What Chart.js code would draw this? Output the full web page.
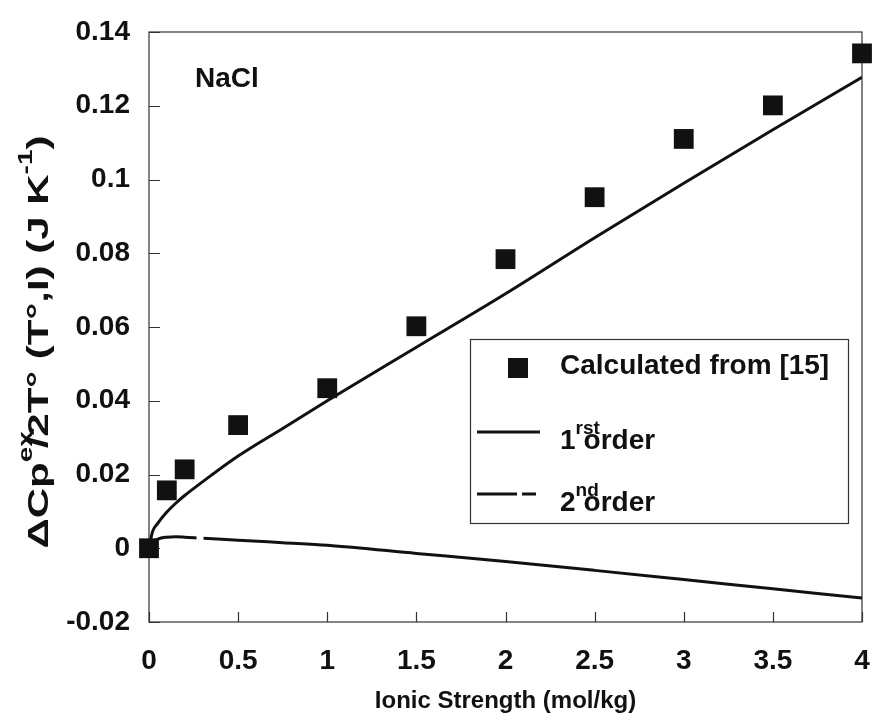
<!DOCTYPE html>
<html>
<head>
<meta charset="utf-8">
<script src="https://cdn.jsdelivr.net/npm/chart.js@4.4.1/dist/chart.umd.min.js"></script>
<style>
  html, body { margin: 0; padding: 0; background: #fff; }
</style>
</head>
<body>
<canvas id="naclChart" width="879" height="724"></canvas>
<script>
// values
var ionicStrength = [0, 0.1, 0.2, 0.5, 1, 1.5, 2, 2.5, 3, 3.5, 4];
var calcFrom15 = [0, 0.0157, 0.0214, 0.0334, 0.0434, 0.0602, 0.0784, 0.0952, 0.111, 0.1201, 0.1342];

var curveI = [0, 0.02, 0.05, 0.1, 0.15, 0.2, 0.3, 0.5, 0.75, 1, 1.5, 2, 2.5, 3, 3.5, 4];
var firstOrder = [0, 0.0045, 0.0068, 0.0098, 0.0122, 0.0143, 0.018, 0.025, 0.0325, 0.040, 0.0545, 0.069, 0.0842, 0.099, 0.1135, 0.1277];
var secondOrder = [0, 0.0015, 0.0025, 0.003, 0.0031, 0.003, 0.0027, 0.0022, 0.0015, 0.0008, -0.0014, -0.0036, -0.006, -0.0085, -0.011, -0.0135];

var xTicks = [0, 0.5, 1, 1.5, 2, 2.5, 3, 3.5, 4];
var yTicks = [-0.02, 0, 0.02, 0.04, 0.06, 0.08, 0.1, 0.12, 0.14];

var FONT = '"Liberation Sans", Arial, Helvetica, sans-serif';
var INK = '#111';

function toXY(xs, ys) {
  return xs.map(function (x, i) { return { x: x, y: ys[i] }; });
}

// draws a run of text pieces, some raised as superscripts
function drawRich(ctx, parts, x, y) {
  parts.forEach(function (p) {
    ctx.font = 'bold ' + p.size + 'px ' + FONT;
    ctx.fillText(p.t, x, y - (p.rise || 0));
    var w = ctx.measureText(p.t).width;
    x += (p.adv !== undefined) ? p.adv : w;
  });
}
function richWidth(ctx, parts) {
  var w = 0;
  parts.forEach(function (p) {
    ctx.font = 'bold ' + p.size + 'px ' + FONT;
    w += (p.adv !== undefined) ? p.adv : ctx.measureText(p.t).width;
  });
  return w;
}

var framePlugin = {
  id: 'framePlugin',
  beforeDatasetsDraw: function (chart) {
    var ctx = chart.ctx, a = chart.chartArea;
    var xs = chart.scales.x, ys = chart.scales.y;
    ctx.save();
    ctx.strokeStyle = '#333';
    ctx.lineWidth = 1.2;
    ctx.strokeRect(a.left, a.top, a.right - a.left, a.bottom - a.top);
    ctx.beginPath();
    xTicks.forEach(function (v) {
      var px = Math.round(xs.getPixelForValue(v)) + 0.5;
      ctx.moveTo(px, a.bottom);
      ctx.lineTo(px, a.bottom - 10);
    });
    yTicks.forEach(function (v) {
      var py = Math.round(ys.getPixelForValue(v)) + 0.5;
      ctx.moveTo(a.left, py);
      ctx.lineTo(a.left + 11, py);
    });
    ctx.stroke();
    ctx.restore();
  },
  afterDraw: function (chart) {
    var ctx = chart.ctx;
    var ds = chart.data.datasets;
    ctx.save();
    ctx.fillStyle = INK;
    ctx.textBaseline = 'alphabetic';
    ctx.textAlign = 'left';

    // NaCl label
    ctx.font = 'bold 28px ' + FONT;
    ctx.fillText('NaCl', 195, 87);

    // y axis title, rotated and drawn a bit wide like the original
    var yTitle = [
      { t: '\u0394Cp', size: 30 },
      { t: 'ex', size: 20, rise: 16, adv: 10 },
      { t: '/2T\u00b0 (T\u00b0,I) (J K', size: 30 },
      { t: '-1', size: 20, rise: 16 },
      { t: ')', size: 30 }
    ];
    var tw = richWidth(ctx, yTitle);
    ctx.save();
    ctx.translate(48, 342);
    ctx.rotate(-Math.PI / 2);
    ctx.scale(1.4, 1);
    drawRich(ctx, yTitle, -tw / 2, 0);
    ctx.restore();

    // legend box
    var L = { left: 470, top: 339, right: 848, bottom: 523 };
    ctx.strokeStyle = '#333';
    ctx.lineWidth = 1.2;
    ctx.strokeRect(L.left + 0.5, L.top + 0.5, L.right - L.left, L.bottom - L.top);

    // marker entry
    ctx.fillStyle = ds[0].backgroundColor;
    ctx.fillRect(508, 358, 20, 20);
    ctx.fillStyle = INK;
    ctx.font = 'bold 28px ' + FONT;
    ctx.fillText(ds[0].label, 560, 374);

    // line entries
    [[1, 432, '1', 'rst'], [2, 494, '2', 'nd']].forEach(function (e) {
      var d = ds[e[0]];
      ctx.save();
      ctx.strokeStyle = d.borderColor;
      ctx.lineWidth = d.borderWidth;
      ctx.setLineDash(e[0] === 2 ? [40, 5, 14, 5] : []);
      ctx.beginPath();
      ctx.moveTo(477, e[1]);
      ctx.lineTo(540, e[1]);
      ctx.stroke();
      ctx.restore();
      drawRich(ctx, [
        { t: e[2], size: 28 },
        { t: e[3], size: 19, rise: 15, adv: 8 },
        { t: 'order', size: 28 }
      ], 560, e[1] + 17);
    });
    ctx.restore();
  }
};

var chart = new Chart(document.getElementById('naclChart'), {
  type: 'scatter',
  data: {
    datasets: [
      {
        label: 'Calculated from [15]',
        data: toXY(ionicStrength, calcFrom15),
        pointStyle: 'rect',
        pointRadius: 14,
        pointHoverRadius: 14,
        backgroundColor: INK,
        borderWidth: 0,
        clip: false
      },
      {
        label: '1rst order',
        data: toXY(curveI, firstOrder),
        showLine: true,
        pointRadius: 0,
        borderColor: INK,
        borderWidth: 3,
        cubicInterpolationMode: 'monotone'
      },
      {
        label: '2nd order',
        data: toXY(curveI, secondOrder),
        showLine: true,
        pointRadius: 0,
        borderColor: INK,
        borderWidth: 3,
        borderDash: [52, 7, 1200, 7],
        cubicInterpolationMode: 'monotone'
      }
    ]
  },
  options: {
    responsive: false,
    animation: false,
    layout: { padding: { top: 32, right: 17, left: 0, bottom: 0 } },
    plugins: {
      legend: { display: false },
      tooltip: { enabled: false }
    },
    scales: {
      x: {
        type: 'linear',
        min: 0,
        max: 4,
        afterFit: function (s) {
          s.height = 102;
          s.paddingLeft = 0;
          s.paddingRight = 0;
        },
        ticks: {
          stepSize: 0.5,
          color: INK,
          padding: 22,
          font: { family: FONT, size: 28, weight: 'bold' },
          callback: function (v) { return String(+v.toFixed(2)); }
        },
        grid: { display: false, drawTicks: false },
        border: { display: false },
        title: {
          display: true,
          text: 'Ionic Strength (mol/kg)',
          color: INK,
          font: { family: FONT, size: 24, weight: 'bold' },
          padding: { top: 0, bottom: 8 }
        }
      },
      y: {
        type: 'linear',
        min: -0.02,
        max: 0.14,
        afterFit: function (s) {
          s.width = 149;
          s.paddingTop = 0;
          s.paddingBottom = 0;
        },
        ticks: {
          stepSize: 0.02,
          color: INK,
          padding: 19,
          font: { family: FONT, size: 28, weight: 'bold' },
          callback: function (v) { return String(+v.toFixed(2)); }
        },
        grid: { display: false, drawTicks: false },
        border: { display: false }
      }
    }
  },
  plugins: [framePlugin]
});
</script>
</body>
</html>
